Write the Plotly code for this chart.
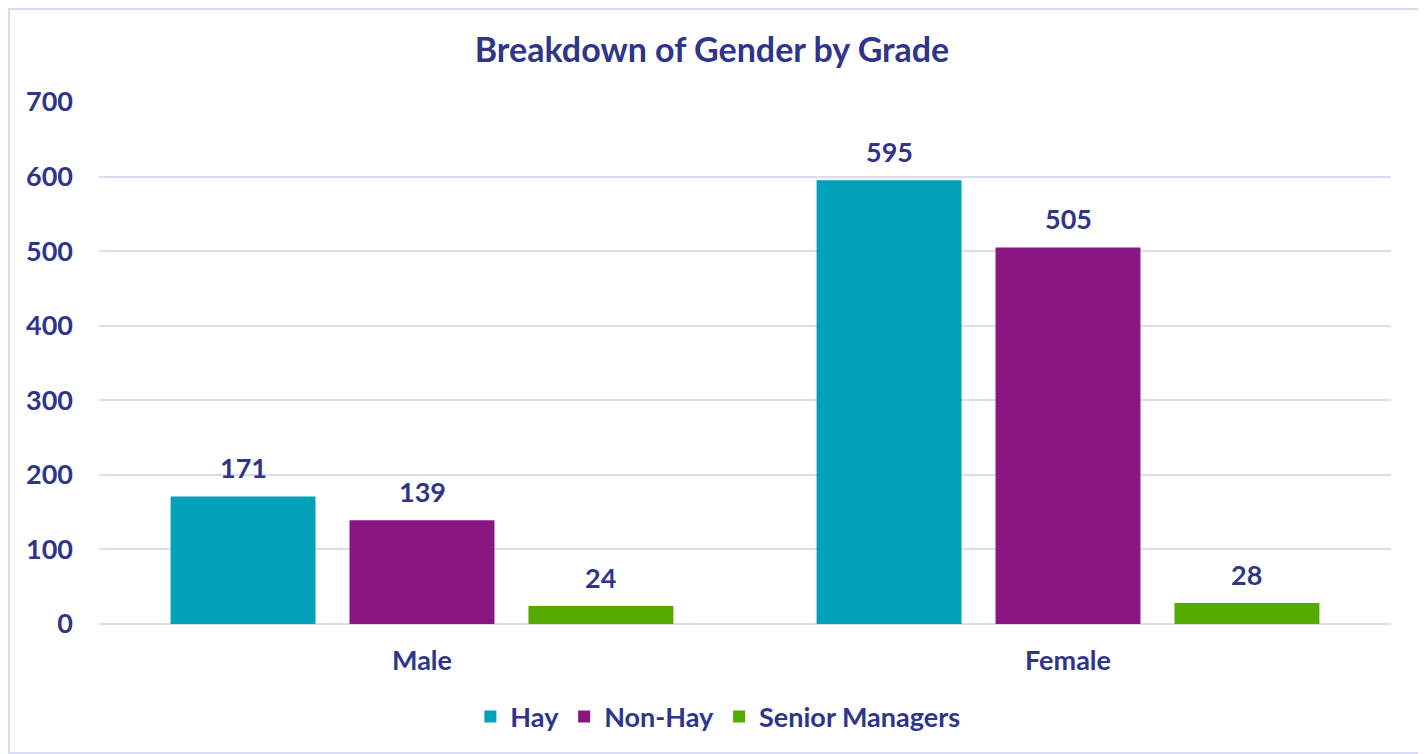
import plotly.graph_objects as go

genders = ["Male", "Female"]
series_names = ["Hay", "Non-Hay", "Senior Managers"]
hay = [171, 595]
non_hay = [139, 505]
senior = [24, 28]

y_ticks = [0, 100, 200, 300, 400, 500, 600, 700]

NAVY = "#2F3588"
GRID = "#D9DCF2"
FONT = "Lato, 'Open Sans', sans-serif"
colors = ["#00A2B9", "#8A1781", "#55AA00"]
BARGAP = 0.169

series = [hay, non_hay, senior]

fig = go.Figure()
for name, vals, col in zip(series_names, series, colors):
    fig.add_trace(go.Bar(
        name=name, x=genders, y=vals,
        marker=dict(color=col, line=dict(width=0)),
    ))

# value labels above each bar, placed at the group slot of each series
n = len(series)
slot = (1 - BARGAP) / n
for k, vals in enumerate(series):
    for i, v in enumerate(vals):
        fig.add_annotation(
            x=i + (k - (n - 1) / 2) * slot, y=v, xref="x", yref="y",
            text=str(v), showarrow=False, yanchor="bottom", yshift=10,
            font=dict(color=NAVY, size=27, family=FONT, weight="bold"),
        )

fig.update_layout(
    width=1418, height=746,
    barmode="group", bargap=BARGAP, bargroupgap=0.19,
    paper_bgcolor="white", plot_bgcolor="white",
    margin=dict(l=91, r=35, t=94, b=130),
    font=dict(family=FONT, color=NAVY, size=27),
    title=dict(text="<b>Breakdown of Gender by Grade</b>", x=0.4965, xanchor="center",
               y=0.944, yanchor="middle", font=dict(size=34, color=NAVY, family=FONT)),
    xaxis=dict(showgrid=False, showline=False, ticks="", ticklabelstandoff=18,
               tickfont=dict(size=27, color=NAVY, family=FONT, weight="bold")),
    yaxis=dict(range=[0, 700], tickvals=y_ticks, showgrid=True, gridcolor=GRID,
               gridwidth=2, zeroline=True, zerolinecolor=GRID, zerolinewidth=2,
               ticks="", ticklabelstandoff=25,
               tickfont=dict(size=27, color=NAVY, family=FONT, weight="bold")),
    legend=dict(orientation="h", x=0.479, xanchor="center", y=-0.178, yanchor="middle",
                font=dict(size=27, color=NAVY, family=FONT, weight="bold"),
                traceorder="normal"),
    showlegend=True,
)

# light outer frame around the whole chart
fig.add_shape(type="rect", xref="paper", yref="paper",
              x0=-0.0697, x1=1.0224, y0=-0.247, y1=1.178,
              line=dict(color=GRID, width=2), fillcolor="rgba(0,0,0,0)",
              layer="below")

fig.write_html("out.html")
